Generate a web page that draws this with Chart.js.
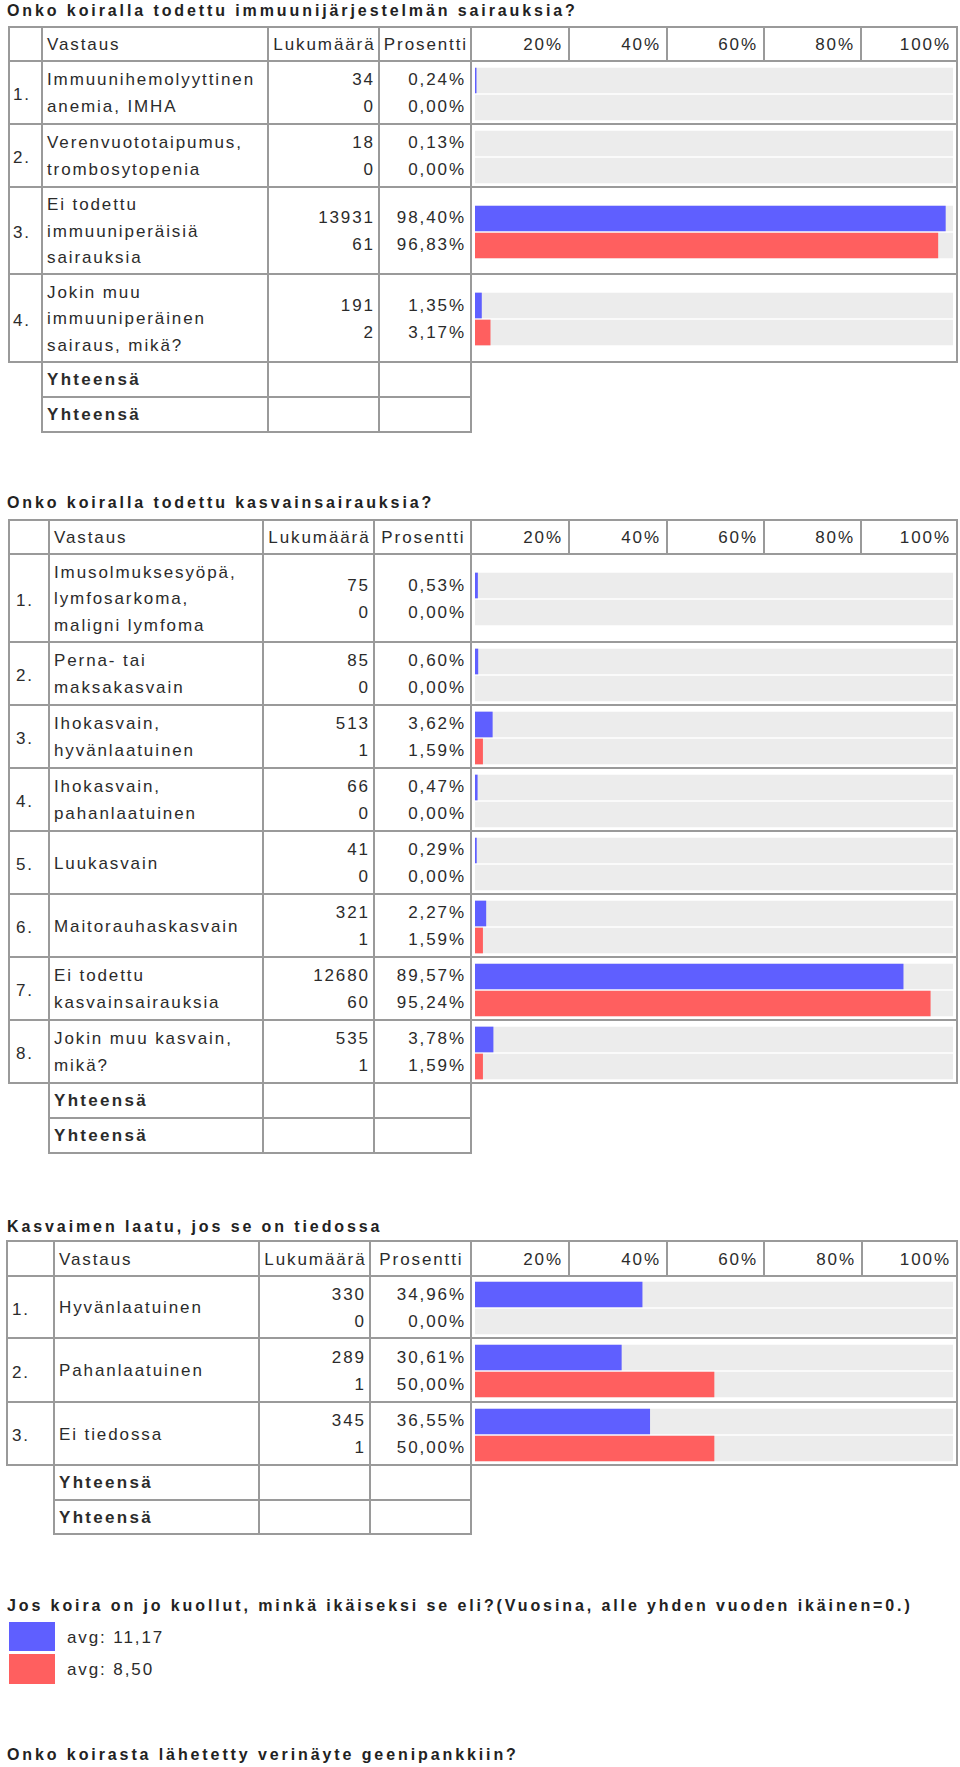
<!DOCTYPE html>
<html><head><meta charset="utf-8">
<script src="https://cdn.jsdelivr.net/npm/chart.js@4.4.1/dist/chart.umd.min.js"></script>
<style>
body{margin:0;background:#fff;}
#root{position:relative;width:960px;height:1767px;overflow:hidden;font-family:"Liberation Sans",Arial,sans-serif;color:#2b2b2b;}
.t{position:absolute;white-space:nowrap;font-size:17px;line-height:20px;height:20px;letter-spacing:1.9px;}
.title{font-weight:bold;font-size:16px;letter-spacing:2.9px;color:#222;}
.b{font-weight:bold;letter-spacing:2.3px;}
.ln{position:absolute;background:#9a9a9a;}
.sw{position:absolute;}
canvas{position:absolute;}
</style></head><body><div id="root"></div>
<script>
// ---------- DATA ----------
const headerLabels = ["Vastaus", "Lukumäärä", "Prosentti"];
const percentTicks = ["20%", "40%", "60%", "80%", "100%"];
const totalLabel = "Yhteensä";

const q1Title = "Onko koiralla todettu immuunijärjestelmän sairauksia?";
const q1Answers = [
  ["Immuunihemolyyttinen", "anemia, IMHA"],
  ["Verenvuototaipumus,", "trombosytopenia"],
  ["Ei todettu", "immuuniperäisiä", "sairauksia"],
  ["Jokin muu", "immuuniperäinen", "sairaus, mikä?"]
];
const q1CountA = [34, 18, 13931, 191];
const q1CountB = [0, 0, 61, 2];
const q1PctA = [0.24, 0.13, 98.40, 1.35];
const q1PctB = [0.00, 0.00, 96.83, 3.17];

const q2Title = "Onko koiralla todettu kasvainsairauksia?";
const q2Answers = [
  ["Imusolmuksesyöpä,", "lymfosarkoma,", "maligni lymfoma"],
  ["Perna- tai", "maksakasvain"],
  ["Ihokasvain,", "hyvänlaatuinen"],
  ["Ihokasvain,", "pahanlaatuinen"],
  ["Luukasvain"],
  ["Maitorauhaskasvain"],
  ["Ei todettu", "kasvainsairauksia"],
  ["Jokin muu kasvain,", "mikä?"]
];
const q2CountA = [75, 85, 513, 66, 41, 321, 12680, 535];
const q2CountB = [0, 0, 1, 0, 0, 1, 60, 1];
const q2PctA = [0.53, 0.60, 3.62, 0.47, 0.29, 2.27, 89.57, 3.78];
const q2PctB = [0.00, 0.00, 1.59, 0.00, 0.00, 1.59, 95.24, 1.59];

const q3Title = "Kasvaimen laatu, jos se on tiedossa";
const q3Answers = [["Hyvänlaatuinen"], ["Pahanlaatuinen"], ["Ei tiedossa"]];
const q3CountA = [330, 289, 345];
const q3CountB = [0, 1, 1];
const q3PctA = [34.96, 30.61, 36.55];
const q3PctB = [0.00, 50.00, 50.00];

const q4Title = "Jos koira on jo kuollut, minkä ikäiseksi se eli?(Vuosina, alle yhden vuoden ikäinen=0.)";
const q4AvgLabels = ["avg: 11,17", "avg: 8,50"];

const q5Title = "Onko koirasta lähetetty verinäyte geenipankkiin?";

// ---------- STYLE / LAYOUT ----------
const BLUE = "#5f5fff", RED = "#ff5f5f", TRACK = "#ececec";
const LS = 1.9;
const lay1 = {titleY: 11, cols: [9, 42, 268, 379, 471, 957], barCols: [569, 667, 764, 861],
  rows: [27, 61, 124, 187, 274, 362], totals: [397, 432], numX: 13};
const lay2 = {titleY: 503, cols: [9, 49, 263, 374, 471, 957], barCols: [569, 667, 764, 861],
  rows: [520, 554, 642, 705, 768, 831, 894, 957, 1020, 1083], totals: [1118, 1153], numX: 16};
const lay3 = {titleY: 1227, cols: [7, 54, 259, 370, 471, 957], barCols: [569, 667, 764, 862],
  rows: [1241, 1276, 1338, 1402, 1465], totals: [1500, 1534], numX: 12};

const root = document.getElementById('root');
function line(x1, y1, x2, y2) {
  const d = document.createElement('div'); d.className = 'ln';
  d.style.left = (x1 - 1) + 'px'; d.style.top = (y1 - 1) + 'px';
  if (y1 === y2) { d.style.width = (x2 - x1 + 2) + 'px'; d.style.height = '2px'; }
  else { d.style.width = '2px'; d.style.height = (y2 - y1 + 2) + 'px'; }
  root.appendChild(d);
}
function text(str, cy, opt) {
  const d = document.createElement('div');
  d.className = 't' + (opt.cls ? ' ' + opt.cls : '');
  d.textContent = str;
  d.style.top = (cy - 10) + 'px';
  if (opt.left !== undefined) d.style.left = opt.left + 'px';
  if (opt.right !== undefined) { d.style.right = (960 - opt.right - LS) + 'px'; d.style.textAlign = 'right'; }
  if (opt.center) { d.style.left = opt.center[0] + 'px'; d.style.width = (opt.center[1] - opt.center[0] + LS) + 'px'; d.style.textAlign = 'center'; }
  root.appendChild(d);
  return d;
}
const fmtPct = v => v.toFixed(2).replace('.', ',') + '%';

function rowChart(x1, x2, cy, a, b) {
  const c = document.createElement('canvas');
  c.width = x2 - x1; c.height = 54;
  c.style.left = x1 + 'px'; c.style.top = Math.round(cy - 27) + 'px';
  root.appendChild(c);
  const plotW = (x2 - x1) - 8;
  const colors = [BLUE, RED];
  new Chart(c, {
    type: 'bar',
    data: {
      labels: ['A', 'B'],
      datasets: [
        {data: [a, b], barThickness: 25, grouped: false, order: 1, borderWidth: 0,
         backgroundColor: ctx => (ctx.raw * plotW / 100 < 1 ? 'rgba(0,0,0,0)' : colors[ctx.dataIndex])},
        {data: [100, 100], backgroundColor: TRACK, barThickness: 25, grouped: false, order: 2, borderWidth: 0}
      ]
    },
    options: {
      indexAxis: 'y', responsive: false, animation: false, events: [], devicePixelRatio: 1,
      layout: {padding: {left: 4, right: 4, top: 0, bottom: 0}},
      plugins: {legend: {display: false}, tooltip: {enabled: false}},
      scales: {x: {display: false, min: 0, max: 100}, y: {display: false}}
    }
  });
}

function renderSection(title, answers, cA, cB, pA, pB, lay) {
  text(title, lay.titleY, {left: 7, cls: 'title'});
  const {cols, rows, totals, barCols, numX} = lay;
  const xL = cols[0], xR = cols[cols.length - 1];
  const last = rows[rows.length - 1];
  rows.forEach(y => line(xL, y, xR, y));
  cols.forEach(x => line(x, rows[0], x, last));
  barCols.forEach(x => line(x, rows[0], x, rows[1]));
  const tEnd = totals[totals.length - 1];
  [cols[1], cols[2], cols[3], cols[4]].forEach(x => line(x, last, x, tEnd));
  totals.forEach(y => line(cols[1], y, cols[4], y));

  const hy = (rows[0] + rows[1]) / 2 + 1;
  text(headerLabels[0], hy, {left: cols[1] + 5});
  text(headerLabels[1], hy, {center: [cols[2], cols[3]]});
  text(headerLabels[2], hy, {center: [cols[3], cols[4]]});
  const edges = [cols[4], ...barCols, xR];
  percentTicks.forEach((t, i) => text(t, hy, {right: edges[i + 1] - 8}));

  answers.forEach((lines, i) => {
    const cy = (rows[i + 1] + rows[i + 2]) / 2 + 1;
    text((i + 1) + '.', cy + 1.5, {left: numX});
    lines.forEach((s, j) => text(s, cy + (j - (lines.length - 1) / 2) * 26.5, {left: cols[1] + 5}));
    text(String(cA[i]), cy - 13.5, {right: cols[3] - 6});
    text(String(cB[i]), cy + 13.5, {right: cols[3] - 6});
    text(fmtPct(pA[i]), cy - 13.5, {right: cols[4] - 7});
    text(fmtPct(pB[i]), cy + 13.5, {right: cols[4] - 7});
    rowChart(cols[4], xR, cy, pA[i], pB[i]);
  });
  let prev = last;
  totals.forEach(y => { text(totalLabel, (prev + y) / 2 + 0.5, {left: cols[1] + 5, cls: 'b'}); prev = y; });
}

renderSection(q1Title, q1Answers, q1CountA, q1CountB, q1PctA, q1PctB, lay1);
renderSection(q2Title, q2Answers, q2CountA, q2CountB, q2PctA, q2PctB, lay2);
renderSection(q3Title, q3Answers, q3CountA, q3CountB, q3PctA, q3PctB, lay3);

// section 4: averages legend
text(q4Title, 1605.5, {left: 7, cls: 'title'});
[[1622, 1651, BLUE], [1654, 1684, RED]].forEach(([y1, y2, col], i) => {
  const s = document.createElement('div'); s.className = 'sw';
  s.style.left = '9px'; s.style.top = y1 + 'px'; s.style.width = '46px'; s.style.height = (y2 - y1) + 'px';
  s.style.background = col; root.appendChild(s);
  text(q4AvgLabels[i], (y1 + y2) / 2 + 1, {left: 67});
});
text(q5Title, 1755, {left: 7, cls: 'title'});
</script></body></html>
